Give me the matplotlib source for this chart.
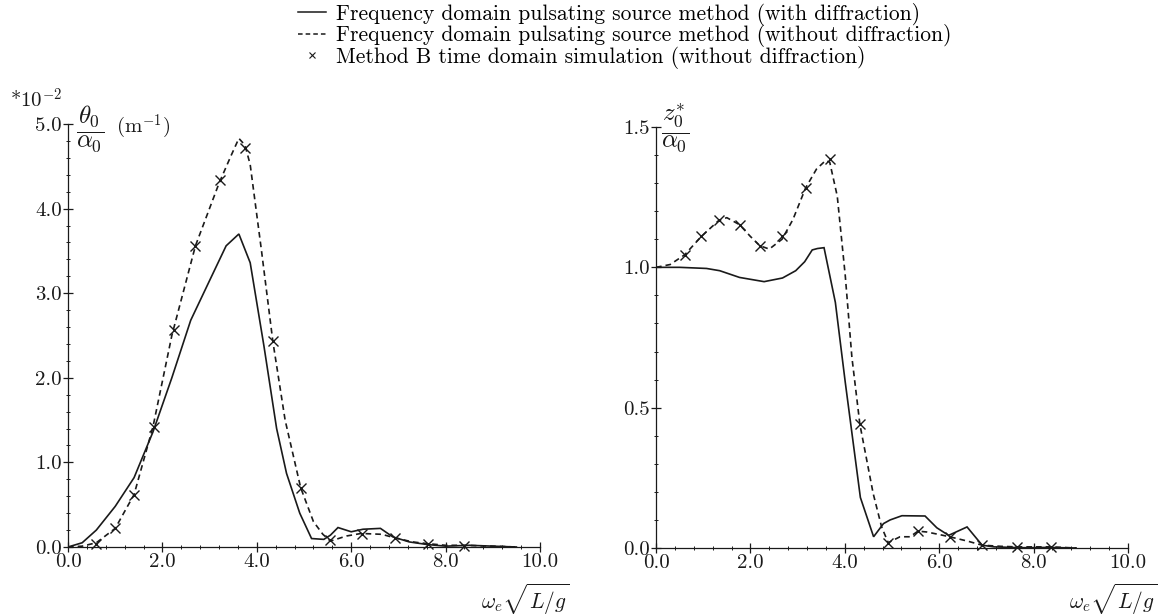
import matplotlib
matplotlib.use("Agg")
import matplotlib.pyplot as plt
from matplotlib.lines import Line2D
from matplotlib.ticker import MultipleLocator, FormatStrFormatter

plt.rcParams['font.family'] = 'cmr10'
plt.rcParams['mathtext.fontset'] = 'cm'
plt.rcParams['axes.formatter.use_mathtext'] = True

# ---------------- data: left panel (theta0/alpha0, x 10^-2 m^-1) ----------------
left_with_x = [0, 0.3, 0.6, 1.0, 1.4, 1.8, 2.2, 2.6, 3.0, 3.35, 3.62, 3.86, 4.15, 4.42, 4.63,
               4.91, 5.16, 5.42, 5.56, 5.72, 6.0, 6.25, 6.62, 6.88, 7.23, 7.6, 8.0, 8.5, 9.0, 9.5]
left_with_y = [0, 0.05, 0.2, 0.48, 0.82, 1.36, 2.0, 2.68, 3.15, 3.56, 3.70, 3.36, 2.38, 1.40, 0.87,
               0.40, 0.10, 0.09, 0.14, 0.23, 0.18, 0.21, 0.22, 0.12, 0.06, 0.03, 0.01, 0.02, 0.01, 0.0]

left_without_x = [0, 0.3, 0.6, 1.0, 1.4, 1.8, 2.2, 2.7, 3.2, 3.45, 3.62, 3.75, 3.86, 4.1, 4.34,
                  4.6, 4.93, 5.2, 5.4, 5.56, 5.9, 6.21, 6.65, 6.91, 7.3, 7.61, 8.0, 8.39, 9.0, 9.5]
left_without_y = [0, 0.01, 0.05, 0.22, 0.62, 1.42, 2.5, 3.56, 4.3, 4.62, 4.83, 4.75, 4.52, 3.5, 2.43,
                  1.5, 0.70, 0.30, 0.15, 0.07, 0.13, 0.16, 0.15, 0.11, 0.06, 0.04, 0.02, 0.02, 0.01, 0.0]

left_time_x = [0.6, 1.0, 1.4, 1.82, 2.24, 2.7, 3.22, 3.74, 4.34, 4.94, 5.56, 6.22, 6.92, 7.63, 8.4]
left_time_y = [0.04, 0.22, 0.61, 1.42, 2.56, 3.56, 4.34, 4.72, 2.43, 0.70, 0.08, 0.15, 0.11, 0.03, 0.01]

# ---------------- data: right panel (z0*/alpha0) ----------------
right_with_x = [0, 0.5, 1.07, 1.35, 1.77, 2.29, 2.68, 2.96, 3.15, 3.31, 3.42, 3.56, 3.80, 4.01,
                4.33, 4.61, 4.82, 4.96, 5.21, 5.70, 5.95, 6.2, 6.59, 6.91, 7.16, 7.73, 8.3, 8.9]
right_with_y = [1.0, 1.0, 0.996, 0.988, 0.964, 0.949, 0.962, 0.988, 1.02, 1.062, 1.067, 1.07, 0.875, 0.59,
                0.18, 0.04, 0.087, 0.10, 0.115, 0.114, 0.072, 0.045, 0.075, 0.01, 0.004, 0.001, 0.002, 0.0]

right_without_x = [0, 0.3, 0.61, 0.96, 1.33, 1.5, 1.77, 2.0, 2.2, 2.4, 2.67, 2.9, 3.17, 3.4, 3.59,
                   3.68, 3.84, 4.01, 4.15, 4.32, 4.6, 4.78, 4.92, 5.17, 5.38, 5.55, 5.74, 6.0, 6.22,
                   6.59, 6.91, 7.3, 7.65, 8.36, 8.9]
right_without_y = [1.0, 1.01, 1.045, 1.11, 1.167, 1.177, 1.152, 1.11, 1.077, 1.065, 1.10, 1.17, 1.283,
                   1.35, 1.38, 1.375, 1.254, 0.97, 0.68, 0.44, 0.195, 0.075, 0.019, 0.04, 0.04, 0.06,
                   0.057, 0.048, 0.04, 0.025, 0.01, 0.006, 0.004, 0.004, 0.0]

right_time_x = [0.61, 0.96, 1.33, 1.77, 2.2, 2.67, 3.17, 3.68, 4.32, 4.92, 5.55, 6.22, 6.91, 7.65, 8.36]
right_time_y = [1.045, 1.11, 1.167, 1.152, 1.077, 1.11, 1.283, 1.385, 0.442, 0.019, 0.06, 0.04, 0.01,
                0.004, 0.004]

legend_labels = ["Frequency domain pulsating source method (with diffraction)",
                 "Frequency domain pulsating source method (without diffraction)",
                 "Method B time domain simulation (without diffraction)"]

INK = '#1a1a1a'
W, H = 1160, 615
fig = plt.figure(figsize=(W / 100, H / 100), dpi=100)

axL = fig.add_axes([68 / W, (H - 547) / H, 472 / W, 423 / H])
axR = fig.add_axes([656 / W, (H - 548) / H, 472 / W, 421 / H])

DASH = (0, (3.4, 2.4))


def style(ax, ymax, ymaj, ymin):
    for s in ('top', 'right'):
        ax.spines[s].set_visible(False)
    for s in ('left', 'bottom'):
        ax.spines[s].set_color(INK)
        ax.spines[s].set_linewidth(0.9)
    ax.set_xlim(0, 10)
    ax.set_ylim(0, ymax)
    ax.xaxis.set_major_locator(MultipleLocator(2.0))
    ax.xaxis.set_minor_locator(MultipleLocator(0.4))
    ax.yaxis.set_major_locator(MultipleLocator(ymaj))
    ax.yaxis.set_minor_locator(MultipleLocator(ymin))
    ax.xaxis.set_major_formatter(FormatStrFormatter('%.1f'))
    ax.yaxis.set_major_formatter(FormatStrFormatter('%.1f'))
    ax.tick_params(which='major', direction='inout', length=7, width=0.9, colors=INK,
                   labelsize=15, pad=1)
    ax.tick_params(which='minor', direction='inout', length=3.5, width=0.7, colors=INK)
    ax.patch.set_visible(False)


style(axL, 5.0, 1.0, 0.2)
style(axR, 1.5, 0.5, 0.1)

for ax, (wx, wy, ox, oy, tx, ty) in zip(
        (axL, axR),
        ((left_with_x, left_with_y, left_without_x, left_without_y, left_time_x, left_time_y),
         (right_with_x, right_with_y, right_without_x, right_without_y, right_time_x, right_time_y))):
    ax.plot(wx, wy, color=INK, lw=1.2, solid_joinstyle='miter')
    ax.plot(ox, oy, color=INK, lw=1.2, ls=DASH)
    ax.plot(tx, ty, ls='none', marker='x', ms=6.5, mew=1.0, color=INK, clip_on=False)

# axis annotations
fig.text(10 / W, 1 - 100 / H, r"*10$^{-2}$", fontsize=15, va='center', ha='left', color=INK)
fig.text(76 / W, 1 - 129 / H, r"$\dfrac{\theta_0}{\alpha_0}$", fontsize=18, va='center', ha='left', color=INK)
fig.text(116 / W, 1 - 127 / H, r"(m$^{-1}$)", fontsize=15, va='center', ha='left', color=INK)
fig.text(661 / W, 1 - 128 / H, r"$\dfrac{z_0^{*}}{\alpha_0}$", fontsize=18, va='center', ha='left', color=INK)

fig.text(570 / W, 1 - 599 / H, r"$\omega_e\sqrt{L/g}$", fontsize=15.5, va='center', ha='right', color=INK)
fig.text(1158 / W, 1 - 599 / H, r"$\omega_e\sqrt{L/g}$", fontsize=15.5, va='center', ha='right', color=INK)

handles = [Line2D([], [], color=INK, lw=1.1),
           Line2D([], [], color=INK, lw=1.1, ls=(0, (3, 2))),
           Line2D([], [], ls='none', marker='x', ms=4.5, mew=0.8, color=INK)]
fig.legend(handles, legend_labels, loc='upper left', bbox_to_anchor=(298 / W, 1 - 3 / H),
           frameon=False, fontsize=15.5, handlelength=1.3, handletextpad=0.45,
           labelspacing=-0.08, borderpad=0, borderaxespad=0)

fig.savefig("out.png", dpi=100)
